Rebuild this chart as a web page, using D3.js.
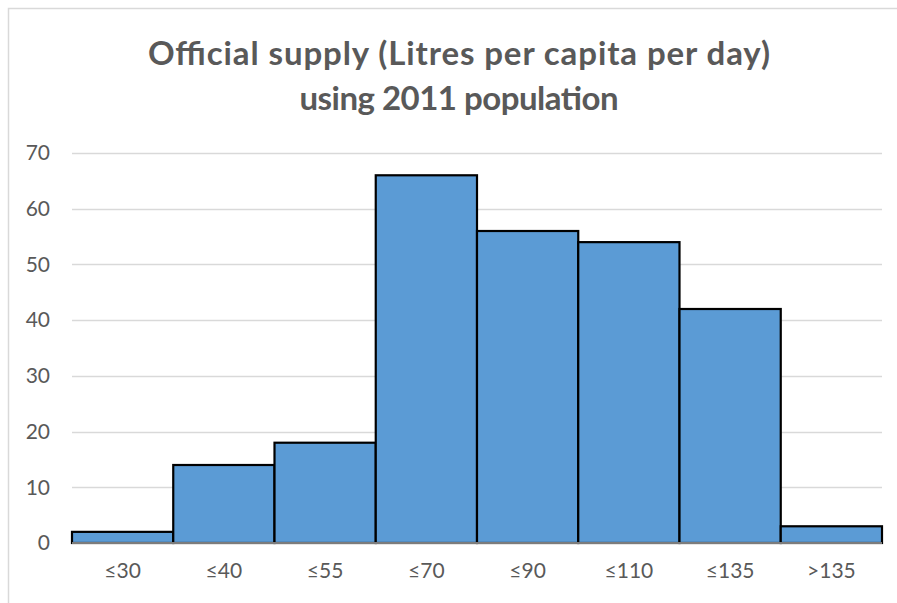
<!DOCTYPE html>
<html><head><meta charset="utf-8">
<script src="https://cdn.jsdelivr.net/npm/d3@7"></script>
<style>body{margin:0;background:#fff}svg{display:block}</style>
</head><body>
<script>
const categories = ["≤30","≤40","≤55","≤70","≤90","≤110","≤135",">135"];
const values = [2,14,18,66,56,54,42,3];
const yTicks = [0,10,20,30,40,50,60,70];
const titleLines = ["Official supply (Litres per capita per day)","using 2011 population"];

const W = 897, H = 603;
const svg = d3.select("body").append("svg").attr("width",W).attr("height",H);
svg.append("rect").attr("x",8.5).attr("y",8.5).attr("width",W+20).attr("height",H+20)
  .attr("fill","#fff").attr("stroke","#d9d9d9").attr("stroke-width",1.5);

const m = {l:72, r:882, t:153, b:543};
const x = d3.scaleBand().domain(categories).range([m.l,m.r]).padding(0);
const y = d3.scaleLinear().domain([0,70]).range([m.b,m.t]);

const font = "Lato, 'Open Sans', sans-serif";
// gridlines
svg.append("g").selectAll("line").data(yTicks.filter(d=>d>0)).join("line")
  .attr("x1",m.l).attr("x2",m.r).attr("y1",d=>Math.round(y(d))+0.5).attr("y2",d=>Math.round(y(d))+0.5)
  .attr("stroke","#d9d9d9").attr("stroke-width",1.3);

// y axis labels
const ya = svg.append("g").attr("transform",`translate(${m.l},0)`)
  .call(d3.axisLeft(y).tickValues(yTicks).tickSize(0).tickPadding(22));
ya.select(".domain").remove();
ya.selectAll("text").attr("font-family",font).attr("font-size",21).attr("fill","#595959");

// bars
svg.append("g").selectAll("rect").data(values).join("rect")
  .attr("x",(d,i)=>x(categories[i])).attr("width",x.bandwidth())
  .attr("y",d=>y(d)).attr("height",d=>y(0)-y(d))
  .attr("fill","#5B9BD5").attr("stroke","#000").attr("stroke-width",2.2);

// baseline
svg.append("line").attr("x1",m.l).attr("x2",m.r).attr("y1",y(0)).attr("y2",y(0))
  .attr("stroke","#a6a6a6").attr("stroke-width",1.3);

// x axis labels
const xa = svg.append("g").attr("transform",`translate(0,${m.b})`)
  .call(d3.axisBottom(x).tickSize(0).tickPadding(20));
xa.select(".domain").remove();
xa.selectAll("text").attr("font-family",font).attr("font-size",21).attr("fill","#595959");

// title
const titleWidths = [622, 319];
svg.append("g").selectAll("text").data(titleLines).join("text")
  .attr("x",459).attr("y",(d,i)=>65+i*45).attr("text-anchor","middle")
  .attr("font-family",font).attr("font-weight","bold").attr("font-size",33)
  .attr("textLength",(d,i)=>titleWidths[i]).attr("lengthAdjust","spacing")
  .attr("fill","#595959").text(d=>d);
</script>
</body></html>
